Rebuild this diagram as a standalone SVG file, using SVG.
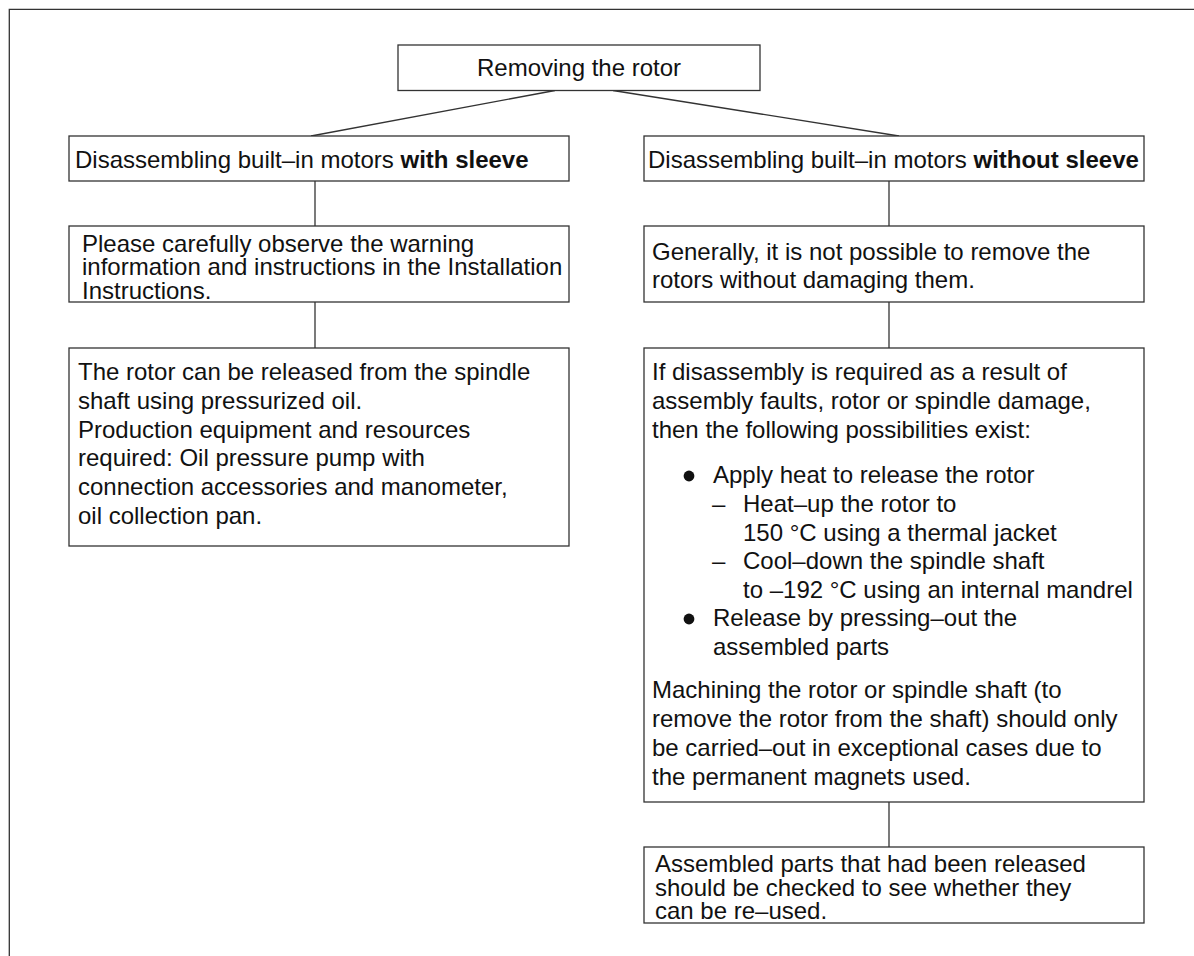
<svg xmlns="http://www.w3.org/2000/svg" width="1194" height="956" viewBox="0 0 1194 956">
  <style>
    .box { fill: #ffffff; stroke: #333333; stroke-width: 1.3; }
    .t { font-family: "Liberation Sans", Arial, Helvetica, sans-serif; font-size: 24px; fill: #111111; }
    .b { font-weight: bold; }
    .wire { stroke: #333333; stroke-width: 1.3; fill: none; }
    .dot { fill: #111111; }
  </style>
  <rect width="1194" height="956" fill="#ffffff"/>

  <!-- page frame (top and left rules) -->
  <path class="wire" d="M 9.3 956 V 9.3 H 1194"/>

  <!-- connectors -->
  <g id="connectors">
    <line class="wire" x1="555" y1="90.5" x2="311" y2="136"/>
    <line class="wire" x1="613" y1="90.5" x2="899" y2="136"/>
    <line class="wire" x1="315" y1="181" x2="315" y2="226"/>
    <line class="wire" x1="315" y1="302" x2="315" y2="348"/>
    <line class="wire" x1="889" y1="181" x2="889" y2="226"/>
    <line class="wire" x1="889" y1="302" x2="889" y2="348"/>
    <line class="wire" x1="889" y1="802" x2="889" y2="847"/>
  </g>

  <g id="root">
    <rect class="box" x="398" y="45" width="362" height="45.5"/>
    <text class="t" x="579" y="76" text-anchor="middle">Removing the rotor</text>
  </g>

  <g id="with-sleeve">
    <rect class="box" x="69" y="136" width="500" height="45"/>
    <text class="t" x="75" y="167.5">Disassembling built–in motors <tspan class="b">with sleeve</tspan></text>
  </g>

  <g id="warning">
    <rect class="box" x="69" y="226" width="500" height="76"/>
    <text class="t">
      <tspan x="82" y="251.7">Please carefully observe the warning</tspan>
      <tspan x="82" y="275.4">information and instructions in the Installation</tspan>
      <tspan x="82" y="299.1">Instructions.</tspan>
    </text>
  </g>

  <g id="oil-release">
    <rect class="box" x="69" y="348" width="500" height="198"/>
    <text class="t">
      <tspan x="78" y="380">The rotor can be released from the spindle</tspan>
      <tspan x="78" y="408.8">shaft using pressurized oil.</tspan>
      <tspan x="78" y="437.6">Production equipment and resources</tspan>
      <tspan x="78" y="466.4">required: Oil pressure pump with</tspan>
      <tspan x="78" y="495.2">connection accessories and manometer,</tspan>
      <tspan x="78" y="524">oil collection pan.</tspan>
    </text>
  </g>

  <g id="without-sleeve">
    <rect class="box" x="644" y="136" width="500" height="45"/>
    <text class="t" x="648" y="167.5">Disassembling built–in motors <tspan class="b">without sleeve</tspan></text>
  </g>

  <g id="not-possible">
    <rect class="box" x="644" y="226" width="500" height="76"/>
    <text class="t">
      <tspan x="652" y="259.5">Generally, it is not possible to remove the</tspan>
      <tspan x="652" y="288.3">rotors without damaging them.</tspan>
    </text>
  </g>

  <g id="possibilities">
    <rect class="box" x="644" y="348" width="500" height="454"/>
    <text class="t">
      <tspan x="652" y="380">If disassembly is required as a result of</tspan>
      <tspan x="652" y="408.8">assembly faults, rotor or spindle damage,</tspan>
      <tspan x="652" y="437.6">then the following possibilities exist:</tspan>
    </text>
    <circle class="dot" cx="689" cy="476" r="5.4"/>
    <text class="t" x="713" y="483">Apply heat to release the rotor</text>
    <text class="t" x="712" y="511.8">–</text>
    <text class="t" x="743" y="511.8">Heat–up the rotor to</text>
    <text class="t" x="743" y="540.6">150 °C using a thermal jacket</text>
    <text class="t" x="712" y="569.4">–</text>
    <text class="t" x="743" y="569.4">Cool–down the spindle shaft</text>
    <text class="t" x="743" y="598.2">to –192 °C using an internal mandrel</text>
    <circle class="dot" cx="689" cy="619" r="5.4"/>
    <text class="t">
      <tspan x="713" y="626">Release by pressing–out the</tspan>
      <tspan x="713" y="654.8">assembled parts</tspan>
    </text>
    <text class="t">
      <tspan x="652" y="698.3">Machining the rotor or spindle shaft (to</tspan>
      <tspan x="652" y="727.1">remove the rotor from the shaft) should only</tspan>
      <tspan x="652" y="755.9">be carried–out in exceptional cases due to</tspan>
      <tspan x="652" y="784.7">the permanent magnets used.</tspan>
    </text>
  </g>

  <g id="check-reuse">
    <rect class="box" x="644" y="847" width="500" height="76"/>
    <text class="t">
      <tspan x="655" y="871.8">Assembled parts that had been released</tspan>
      <tspan x="655" y="895.5">should be checked to see whether they</tspan>
      <tspan x="655" y="919.2">can be re–used.</tspan>
    </text>
  </g>
</svg>
